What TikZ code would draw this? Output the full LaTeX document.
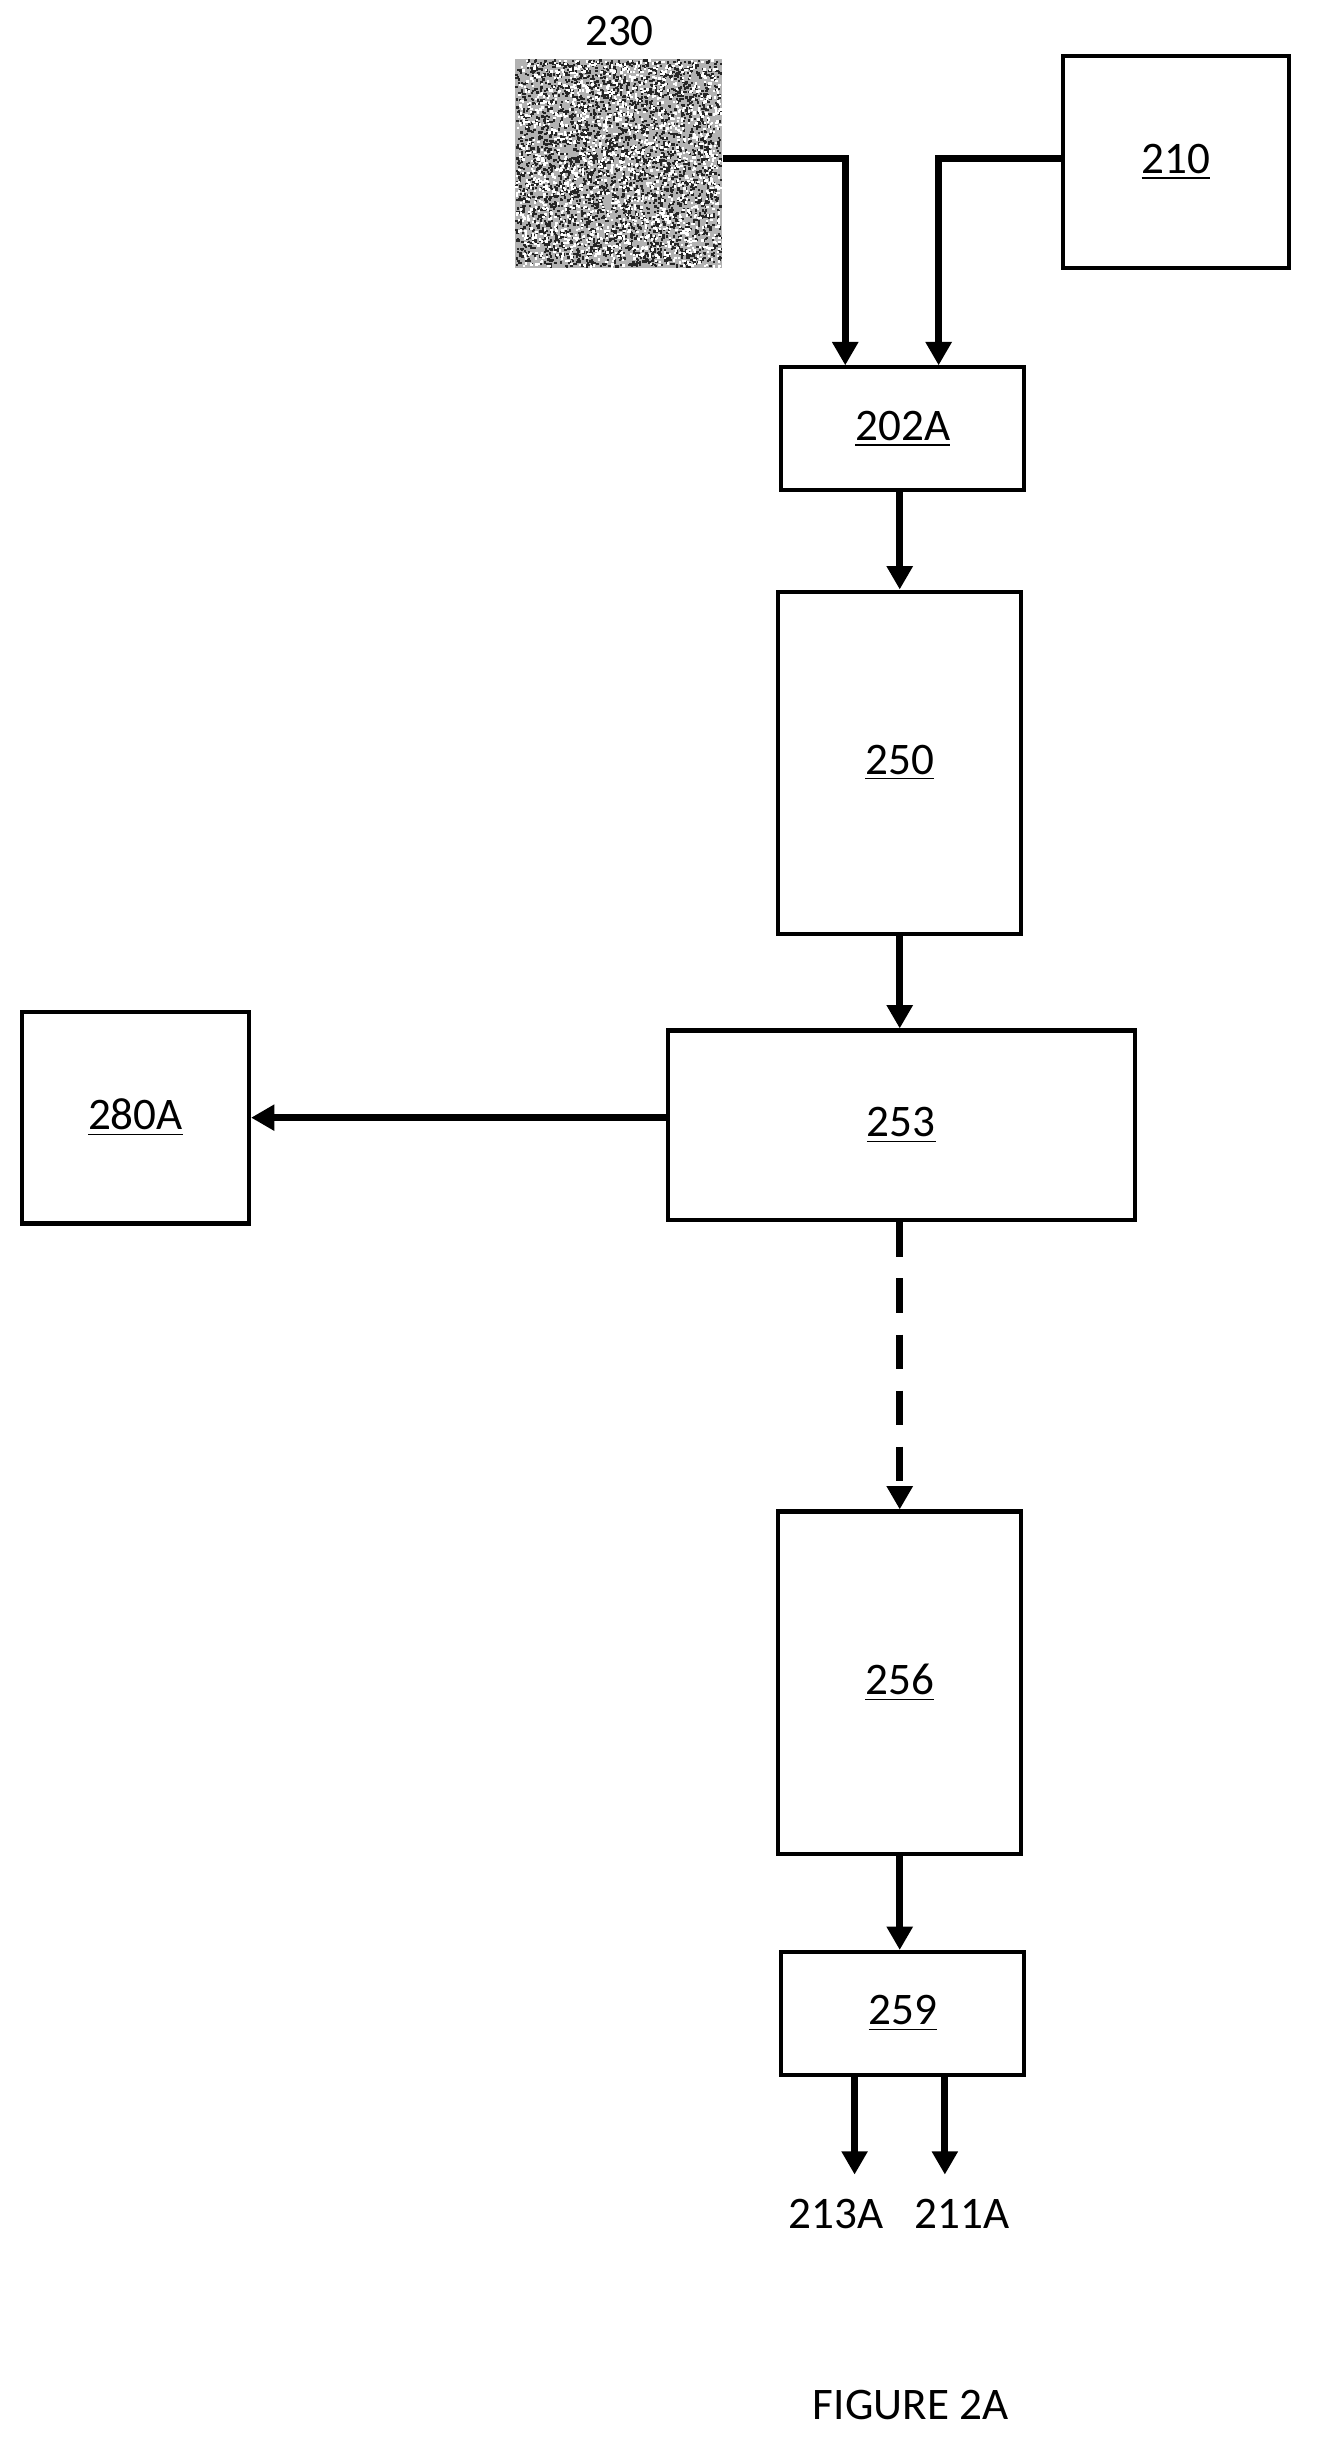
\documentclass[tikz,border=0pt]{standalone}
\usepackage{fontspec}
\setmainfont{Carlito}
\usetikzlibrary{arrows.meta}
\tikzset{
  blk/.style={draw, line width=1.3pt, inner sep=0pt},
  flow/.style={line width=2.2pt, -{Triangle[length=7.5pt,width=8pt]}},
  lbl/.style={font=\fontsize{14.5}{17}\selectfont, inner sep=0.75pt}
}
\begin{document}
\begin{tikzpicture}[x=0.5pt,y=0.5pt,yscale=-1,xscale=1]
    \useasboundingbox (0,0) rectangle (850,1581);
    %Shape: noisy block 230
    \fill[gray!60] (331,38) rectangle (464,172);
    \pgfmathsetseed{7}
    \foreach \i in {1,...,3500}{
      \pgfmathsetmacro{\px}{331+131.5*rnd}
      \pgfmathsetmacro{\py}{38+132.5*rnd}
      \fill[black!85] (\px,\py) rectangle ++(1.5,1.5);
    }
    \foreach \i in {1,...,1800}{
      \pgfmathsetmacro{\px}{331+131.5*rnd}
      \pgfmathsetmacro{\py}{38+132.5*rnd}
      \fill[white] (\px,\py) rectangle ++(1.5,1.5);
    }
    \node (b230) [minimum width=66.5pt, minimum height=67pt, inner sep=0pt] at (397.5,105) {};
    \node (t230) [lbl] at (398,20) {230};
    %Shape: blocks
    \node (b210) [blk, minimum width=72.5pt, minimum height=68pt] at (755.5,104) {};
    \node [lbl] at (b210) {\underline{210}};
    \node (b202) [blk, minimum width=78pt, minimum height=39.5pt] at (580,275.5) {};
    \node [lbl] at (b202) {\underline{202A}};
    \node (b250) [blk, minimum width=78pt, minimum height=110pt] at (578,490) {};
    \node [lbl] at (b250) {\underline{250}};
    \node (b253) [blk, minimum width=150pt, minimum height=61pt] at (579,723) {};
    \node [lbl] at (b253) {\underline{253}};
    \node (b280) [blk, minimum width=73pt, minimum height=68pt] at (87,718) {};
    \node [lbl] at (b280) {\underline{280A}};
    \node (b256) [blk, minimum width=78pt, minimum height=110pt] at (578,1081) {};
    \node [lbl] at (b256) {\underline{256}};
    \node (b259) [blk, minimum width=78pt, minimum height=39.5pt] at (580,1293.5) {};
    \node [lbl] at (b259) {\underline{259}};
    % outputs
    \coordinate (o213) at (549,1397);
    \coordinate (o211) at (607,1397);
    \node (t213) [lbl] at (537,1422) {213A};
    \node (t211) [lbl] at (618,1422) {211A};
    \node (fig) [lbl] at (585,1545) {FIGURE 2A};
    %Straight Lines: connectors
    \draw [flow] (b230.east |- 0,102) -| (b202.north -| 543,0);
    \draw [flow] (b210.west |- 0,102) -| (b202.north -| 603,0);
    \draw [flow] (b202.south -| 578,0) -- (b250.north);
    \draw [flow] (b250.south) -- (b253.north -| b250.south);
    \draw [flow] (b253.west |- 0,718) -- (b280.east |- 0,718);
    \draw [flow, dash pattern=on 11pt off 7pt] (b253.south -| b256.north) -- (b256.north);
    \draw [flow] (b256.south) -- (b259.north -| b256.south);
    \draw [flow] (b259.south -| o213) -- (o213);
    \draw [flow] (b259.south -| o211) -- (o211);
\end{tikzpicture}
\end{document}
